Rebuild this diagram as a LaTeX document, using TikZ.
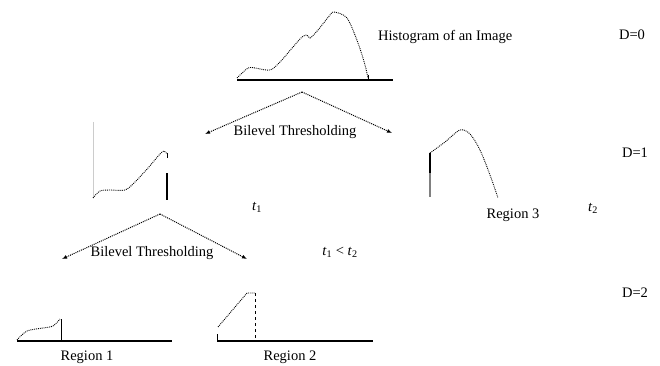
\documentclass[tikz,border=0pt]{standalone}
\usepackage{fontspec}
\setmainfont{Liberation Serif}
\usetikzlibrary{arrows.meta, math}

\begin{document}
\begin{tikzpicture}[x=1pt,y=-1pt,
  hist/.style={densely dotted, line width=0.9},
  axis/.style={line width=1.1},
  split/.style={densely dotted, line width=1, -{Latex[length=5,width=4]}},
  lbl/.style={font=\fontsize{14.5}{16}\selectfont, inner sep=0}]
\tikzmath{
\ytop=80;
\ybot=341;
}
\useasboundingbox (0,0) rectangle (660,366);

%histogram of the whole image
\draw[axis] (237,\ytop) -- (393,\ytop);
\draw[hist] plot[smooth, tension=0.5] coordinates {(237,78) (248,68) (255,68) (270,70) (280,62) (293,47) (302,37) (307,35) (310,38) (318,30) (330,15) (334,12) (347,18) (358,43) (365,65) (368,78)};
\draw (368,75) -- (368,\ytop);
\node[lbl, anchor=west] (title) at (378,37) {Histogram of an Image};
\node[lbl] (d0) at (632,35) {D=0};

%first split
\coordinate (top) at (302,92);
\coordinate (tipL) at (205,134);
\coordinate (tipR) at (392,133);
\draw[split] (top) -- (tipL);
\draw[split] (top) -- (tipR);
\node[lbl] (bt1) at (295,132) {Bilevel Thresholding};

%left part, below t1
\draw[gray!40] (93,122) -- (93,198);
\draw[hist] plot[smooth, tension=0.5] coordinates {(93,198) (100,191) (110,190) (125,190) (135,182) (148,168) (160,154) (164,151) (167,154)};
\draw (167,153) -- (167,158);
\draw[axis] (167,173) -- (167,200);
\node[lbl] (t1) at (257,207) {\textit{t}\textsubscript{1}};

%region 3, above t2
\draw[axis] (430,153) -- (430,173);
\draw[gray, line width=1.1] (430,173) -- (430,197);
\draw[hist] plot[smooth, tension=0.5] coordinates {(430,153) (445,142) (460,130) (470,134) (480,150) (490,175) (498,198)};
\node[lbl] (r3) at (513,215) {Region 3};
\node[lbl] (t2) at (593,208) {\textit{t}\textsubscript{2}};
\node[lbl] (d1) at (635,153) {D=1};

%second split
\coordinate (mid) at (160,214);
\coordinate (tipLL) at (62,259);
\coordinate (tipLR) at (247,259);
\draw[split] (mid) -- (tipLL);
\draw[split] (mid) -- (tipLR);
\node[lbl] (bt2) at (152,253) {Bilevel Thresholding};
\node[lbl] (cmp) at (340,252) {\textit{t}\textsubscript{1} < \textit{t}\textsubscript{2}};
\node[lbl] (d2) at (635,293) {D=2};

%region 1
\draw[axis] (17,\ybot) -- (172,\ybot);
\draw[hist] plot[smooth, tension=0.5] coordinates {(17,340) (27,331) (43,328) (53,326) (60,319)};
\draw (61,319) -- (61,\ybot);
\node[lbl] (r1) at (87,357) {Region 1};

%region 2
\draw[axis] (217,\ybot) -- (373,\ybot);
\draw (217,334) -- (217,\ybot);
\draw[hist] (218,327) -- (247,293) -- (255,293);
\draw[dashed] (255,293) -- (255,\ybot);
\node[lbl] (r2) at (290,357) {Region 2};
\end{tikzpicture}
\end{document}
